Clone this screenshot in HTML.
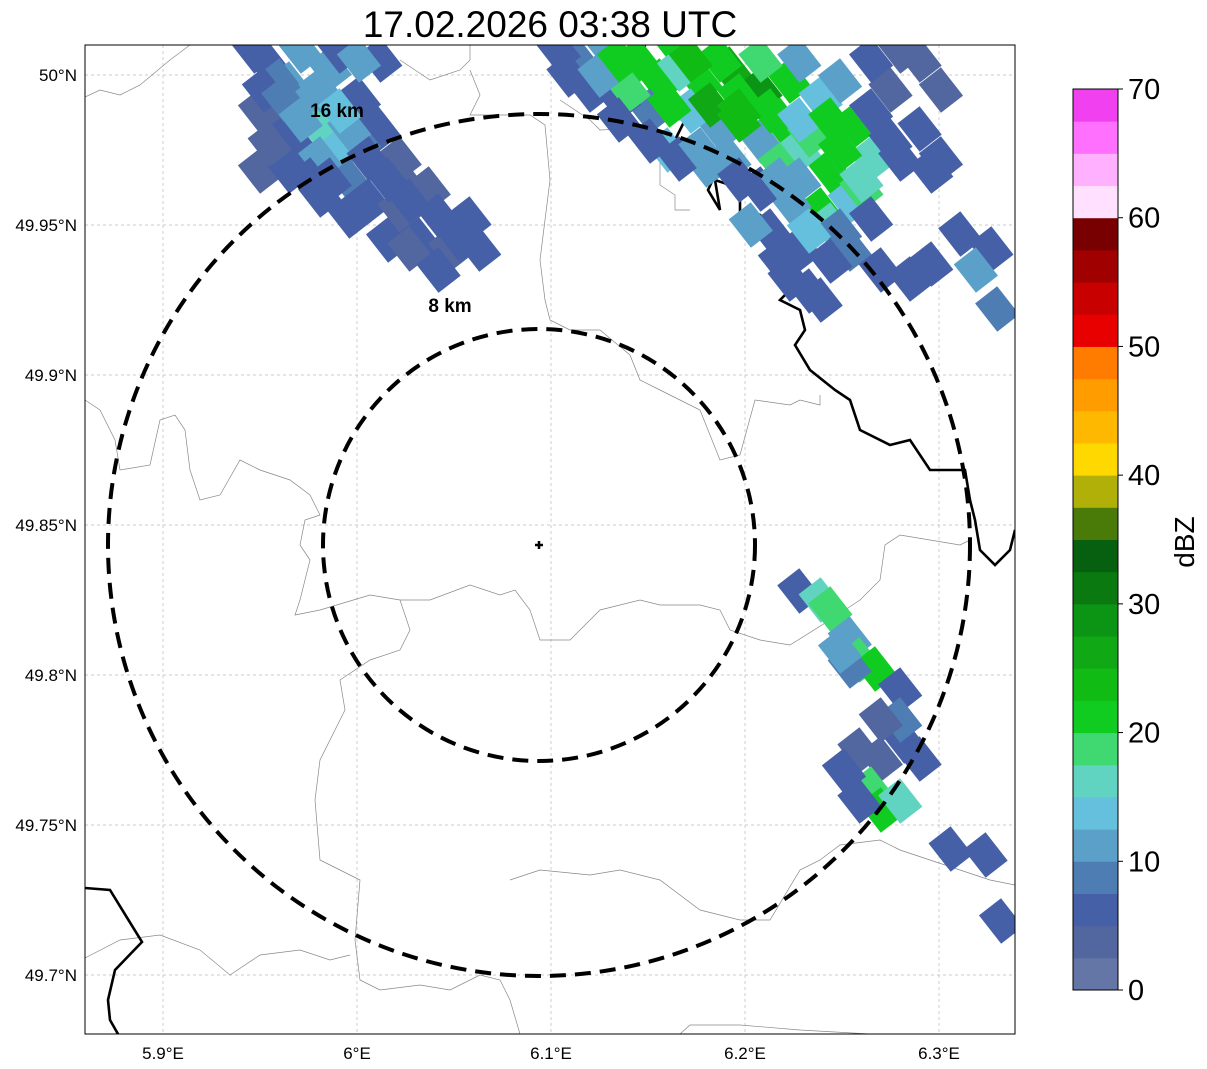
<!DOCTYPE html>
<html><head><meta charset="utf-8">
<style>
body{margin:0;background:#fff;width:1207px;height:1069px;overflow:hidden;font-family:"Liberation Sans",sans-serif}
svg{display:block}
</style></head>
<body>
<svg id="chart" width="1207" height="1069" viewBox="0 0 1207 1069">
<text x="550" y="37" font-size="37" text-anchor="middle" fill="#000">17.02.2026 03:38 UTC</text>
<defs><clipPath id="mapclip"><rect x="85" y="45" width="930" height="989"/></clipPath></defs>
<g id="grid"></g>
<g id="borders" clip-path="url(#mapclip)" fill="none">
<path d="M85,97 L100,90 L120,95 L140,85 L170,60 L190,45" stroke="#888" stroke-width="0.7"/>
<path d="M400,60 L430,80 L460,70 L470,60 L470,45 M470,70 L480,95 L470,115 L530,115 L545,125 L550,180 L540,260 L545,300 L550,320 L570,330 L600,330 L630,355 L640,380 L660,390 L700,410 L720,460 L740,455 L755,400 L790,405 L800,400 L820,405 L820,395" stroke="#888" stroke-width="0.7"/>
<path d="M560,100 L590,120 L600,130 L640,128 L660,150 L660,185 L675,195 L675,210 L690,210" stroke="#888" stroke-width="0.7"/>
<path d="M85,400 L100,410 L115,440 L120,470 L150,465 L160,420 L175,415 L185,430 L190,470 L200,500 L220,495 L240,460 L260,470 L290,480 L310,495 L320,515 L305,520 L300,545 L310,560 L300,600 L295,615 L320,610 L370,595 L400,600 L430,600 L470,585 L500,595 L515,590 L530,610 L540,640 L570,640 L600,610 L640,600 L660,605 L700,605 L720,610 L730,630 L760,640 L790,645 L830,620 L860,600 L880,580 L885,545 L900,535 L960,545 L970,540" stroke="#888" stroke-width="0.7"/>
<path d="M400,600 L410,630 L400,650 L370,660 L340,680 L345,710 L320,760 L315,800 L320,860 L340,870 L360,880 L355,940 L360,980 L380,990 L420,985 L450,990 L480,975 L500,980 L510,1000 L520,1034" stroke="#888" stroke-width="0.7"/>
<path d="M85,958 L120,940 L160,935 L200,950 L230,975 L260,955 L300,950 L330,960 L350,955" stroke="#888" stroke-width="0.7"/>
<path d="M510,880 L540,870 L590,875 L620,870 L660,880 L700,910 L740,920 L770,920 L800,870 L820,860 L840,845 L880,840 L900,850 L930,860 L960,870 L990,880 L1015,885" stroke="#888" stroke-width="0.7"/>
<path d="M680,1034 L690,1025 L740,1025 L800,1030 L870,1034" stroke="#888" stroke-width="0.7"/>
<path d="M645,45 L640,70 L630,85 L640,105 L660,115 L685,120 L675,140 L690,160 L710,165 L715,175 L708,190 L720,210 L715,180 L730,185 L740,200 L740,230 L750,210 L760,215 L770,225 L790,235 L790,260 L785,275 L795,285 L780,300 L800,310 L805,330 L795,345 L810,370 L835,390 L850,400 L860,430 L890,445 L910,440 L930,470 L965,470 L970,500 L975,520 L980,550 L995,565 L1010,550 L1015,530" stroke="#000" stroke-width="2.6"/>
<path d="M85,888 L110,890 L142,942 L115,970 L108,1000 L110,1020 L118,1034" stroke="#000" stroke-width="2.6"/>
</g>
<g id="cells" clip-path="url(#mapclip)"></g>
<g clip-path="url(#mapclip)" fill="none" stroke="#000" stroke-width="4" stroke-dasharray="16,9">
<ellipse id="ring8" cx="539" cy="545" rx="216" ry="216"/>
<ellipse id="ring16" cx="539" cy="545" rx="431" ry="431"/>
</g>
<text x="337" y="117" font-size="19" font-weight="bold" text-anchor="middle">16 km</text>
<text x="450" y="312" font-size="19" font-weight="bold" text-anchor="middle">8 km</text>
<path d="M535,545 H543 M539,541 V549" stroke="#000" stroke-width="2.5"/>
<rect x="85" y="45" width="930" height="989" fill="none" stroke="#000" stroke-width="1"/>
<g id="axes"></g>
<g id="cbar"></g>
<text x="1194" y="542" font-size="28" text-anchor="middle" transform="rotate(-90 1194 542)">dBZ</text>
</svg>
<script>
const lonTicks=[5.9,6.0,6.1,6.2,6.3];
const lonLabels=["5.9°E","6°E","6.1°E","6.2°E","6.3°E"];
const latTicks=[50.0,49.95,49.9,49.85,49.8,49.75,49.7];
const latLabels=["50°N","49.95°N","49.9°N","49.85°N","49.8°N","49.75°N","49.7°N"];
const cbTicks=[0,10,20,30,40,50,60,70];
const cbColors=["#6476a6","#5266a0","#4660a8","#4e7db3","#5aa0c8","#64c0dc","#60d4c0","#40d870","#10cc20","#10bc14","#10a814","#0c9414","#0a7a10","#066010","#4a7a08","#b0b008","#ffd800","#ffb800","#ff9c00","#ff7c00","#e80000","#c80000","#a00000","#780000","#ffe0ff","#ffb0ff","#ff70ff","#f040f0"];
const cellLon=[5.955,5.965,5.976,5.981,5.991,5.971,5.960,5.996,6.006,6.022,6.032,6.048,6.058,6.016,5.986,6.001,6.011,6.022,5.950,5.950,5.991,5.971,6.037,6.063,5.996,5.960,5.981,6.001,6.027,6.042,
5.947,5.952,5.962,5.971,5.981,5.986,5.976,5.965,5.996,6.006,6.016,6.027,6.042,6.053,6.012,6.001,5.981,5.991,5.955,6.027,6.042,
6.114,6.130,6.145,6.156,6.177,6.192,6.208,6.223,6.239,6.254,6.265,6.244,6.228,6.208,6.187,6.172,6.151,6.135,6.120,6.239,6.223,6.208,6.213,6.228,6.254,6.270,6.285,6.296,6.280,6.296,6.275,6.254,6.187,6.166,6.239,6.223,6.275,6.290,6.311,6.327,6.319,6.125,6.140,6.161,6.182,6.197,6.218,6.233,6.249,6.260,6.166,6.197,6.218,6.244,6.203,6.228,6.160,6.180,6.330,
6.104,6.109,6.125,6.135,6.151,6.166,6.177,6.192,6.197,6.218,6.213,6.197,6.228,6.244,6.249,6.260,6.265,6.249,6.233,6.244,6.233,6.218,6.290,6.301,6.265,6.280,6.301,6.172,6.208,6.228,6.249,6.265,6.135,
6.228,6.239,6.244,6.254,6.259,6.267,6.254,6.280,6.282,6.259,6.270,6.290,6.265,6.270,6.280,6.259,6.251,6.306,6.324,6.332,6.280,6.249,6.270];
const cellLat=[50.003,49.997,49.992,49.982,49.975,49.975,49.982,49.965,49.958,49.955,49.945,49.942,49.952,49.945,50.002,49.992,49.982,49.972,49.968,49.988,50.008,50.008,49.962,49.942,49.953,49.998,49.960,49.978,49.962,49.935,
50.008,49.995,49.992,49.985,49.972,49.965,49.965,49.968,49.982,49.972,49.965,49.958,49.953,49.945,50.005,50.005,49.995,49.988,49.977,49.942,49.935,
50.005,50.008,50.005,49.998,49.998,50.002,49.995,49.998,49.992,49.982,49.972,49.968,49.975,49.978,49.982,49.988,49.988,49.992,49.995,49.955,49.958,49.962,49.948,49.942,49.942,49.935,49.932,49.937,49.972,49.968,49.978,49.958,50.005,50.008,49.925,49.932,49.995,50.005,49.947,49.942,49.935,50.000,49.995,49.990,49.990,49.985,49.985,49.980,49.975,49.962,50.002,49.993,49.970,49.950,49.950,49.965,49.975,49.970,49.922,
50.008,50.000,50.000,49.985,49.978,49.972,49.975,49.972,49.965,49.965,49.988,49.988,49.985,49.985,49.975,49.965,49.952,49.948,49.948,49.938,49.928,49.938,49.982,49.972,50.005,50.008,49.995,50.005,50.005,50.005,49.998,49.988,50.005,
49.828,49.825,49.822,49.812,49.805,49.802,49.803,49.795,49.778,49.775,49.772,49.772,49.762,49.755,49.758,49.758,49.768,49.742,49.740,49.718,49.785,49.808,49.785];
const cellVal=[5,12,12,15,14,5,5,8,5,3,5,3,5,5,10,5,5,3,3,3,5,10,3,5,5,8,5,8,3,5,
5,5,8,12,12,5,5,5,10,5,5,5,5,5,5,10,12,14,3,3,5,
8,12,22,22,20,25,28,20,14,22,15,22,16,12,10,14,8,5,5,20,12,5,5,5,8,5,5,5,5,5,5,14,20,22,5,5,3,3,5,5,12,10,18,20,26,24,22,18,16,18,15,22,18,15,10,10,14,12,8,
5,5,10,5,5,5,10,12,5,12,22,24,14,20,22,15,5,8,14,5,5,5,5,5,5,3,3,24,18,12,10,5,22,
5,15,18,12,18,22,8,5,5,3,3,5,18,22,15,5,5,5,5,5,8,12,3];
const X0=85,X1=1015,Y0=45,Y1=1034;
const xS=lon=>163+(lon-5.9)*1940;
const yS=lat=>75+(50.0-lat)*3000;
const NS="http://www.w3.org/2000/svg";
const grid=document.getElementById('grid'),axes=document.getElementById('axes');
lonTicks.forEach((t,i)=>{const x=xS(t);
 const l=document.createElementNS(NS,'line');l.setAttribute('x1',x);l.setAttribute('x2',x);l.setAttribute('y1',Y0);l.setAttribute('y2',Y1);l.setAttribute('stroke','#bbb');l.setAttribute('stroke-width','0.7');l.setAttribute('stroke-dasharray','3,3');
 
 
 grid.appendChild(l);
 const tx=document.createElementNS(NS,'text');tx.setAttribute('x',x);tx.setAttribute('y',1059);tx.setAttribute('font-size','17');tx.setAttribute('text-anchor','middle');tx.textContent=lonLabels[i];
 
 
 axes.appendChild(tx);});
latTicks.forEach((t,i)=>{const y=yS(t);
 const l=document.createElementNS(NS,'line');l.setAttribute('x1',X0);l.setAttribute('x2',X1);l.setAttribute('y1',y);l.setAttribute('y2',y);l.setAttribute('stroke','#bbb');l.setAttribute('stroke-width','0.7');l.setAttribute('stroke-dasharray','3,3');
 
 
 grid.appendChild(l);
 const tx=document.createElementNS(NS,'text');tx.setAttribute('x',77);tx.setAttribute('y',y+6);tx.setAttribute('font-size','17');tx.setAttribute('text-anchor','end');tx.textContent=latLabels[i];
 
 
 axes.appendChild(tx);});
const colorFor=v=>cbColors[Math.min(cbColors.length-1,Math.max(0,Math.floor(v/2.5)))];
const cells=document.getElementById('cells');
cellLon.forEach((lon,i)=>{const x=xS(lon),y=yS(cellLat[i]);
 const r=document.createElementNS(NS,'rect');
 r.setAttribute('x',x-14);r.setAttribute('y',y-18);r.setAttribute('width',28);r.setAttribute('height',36);
 r.setAttribute('fill',colorFor(cellVal[i]));r.setAttribute('transform',`rotate(-38 ${x} ${y})`);
 
 
 cells.appendChild(r);});
const cb=document.getElementById('cbar');const cbX=1073,cbW=45,cbTop=89,cbBot=990;
const cy=v=>cbBot-(v/70)*(cbBot-cbTop);
cbColors.forEach((c,i)=>{const r=document.createElementNS(NS,'rect');
 r.setAttribute('x',cbX);r.setAttribute('y',cy((i+1)*2.5));r.setAttribute('width',cbW);r.setAttribute('height',cy(i*2.5)-cy((i+1)*2.5)+0.5);r.setAttribute('fill',c);
 
 
 cb.appendChild(r);});
const fr=document.createElementNS(NS,'rect');fr.setAttribute('x',cbX);fr.setAttribute('y',cbTop);fr.setAttribute('width',cbW);fr.setAttribute('height',cbBot-cbTop);fr.setAttribute('fill','none');fr.setAttribute('stroke','#000');


cb.appendChild(fr);
cbTicks.forEach(t=>{const y=cy(t);
 const l=document.createElementNS(NS,'line');l.setAttribute('x1',cbX+cbW);l.setAttribute('x2',cbX+cbW+5);l.setAttribute('y1',y);l.setAttribute('y2',y);l.setAttribute('stroke','#000');
 
 
 cb.appendChild(l);
 const tx=document.createElementNS(NS,'text');tx.setAttribute('x',cbX+cbW+10);tx.setAttribute('y',y+10);tx.setAttribute('font-size','29');tx.textContent=t;
 
 
 cb.appendChild(tx);});
</script>
</body></html>
